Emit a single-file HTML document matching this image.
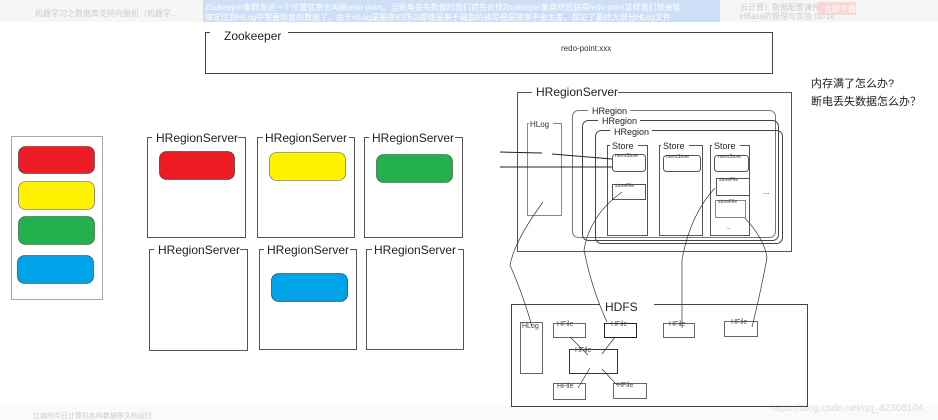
<!DOCTYPE html>
<html><head><meta charset="utf-8"><style>
html,body{margin:0;padding:0;background:#fff;width:938px;height:420px;overflow:hidden}
svg{display:block}
text{font-family:"Liberation Sans","Noto Sans CJK SC",sans-serif}
</style></head><body>
<svg width="938" height="420" viewBox="0 0 938 420" xmlns="http://www.w3.org/2000/svg">
<rect x="0" y="0" width="938" height="22" fill="#f6f6f6"/>
<rect x="203" y="0" width="517" height="22" fill="#cddff7"/>
<text x="205" y="10" font-size="8" fill="#fff">Zookeeper集群发送一个位置信息也叫做redo point。当断电丢失数据时我们首先去找Zookeeper集群然后获得redo point这样我们就会能</text>
<text x="205" y="20" font-size="8" fill="#fff">够定位到HLog中需要恢复的数据了，由于HLog是顺序IO所以即使是基于磁盘的读写但是效率不会太差，保证了最终大部分HLog文件</text>
<text x="35" y="16" font-size="8" fill="#ccc">机器学习之数据库支持向量机（机器学...</text>
<text x="740" y="10" font-size="8" fill="#ccc">云计算）数据配置课件9</text>
<text x="740" y="19" font-size="8" fill="#ccc">HBase的原理与实验 02-18</text>
<rect x="818" y="2" width="38" height="13" fill="#f9d7d7"/>
<text x="824" y="12" font-size="8" fill="#fff">立即下载</text>
<rect x="0" y="406" width="938" height="14" fill="#fafafa"/>
<text x="33" y="418" font-size="7" fill="#ccc">江城的今日计算机各种数据等文档运行</text>
<text x="770" y="411" font-size="10" fill="#ddd">https://blog.csdn.net/qq_42308104</text>

<g fill="none" stroke="#444" stroke-width="1">
<rect x="205.5" y="32.5" width="567" height="41"/>
</g>
<rect x="210" y="28" width="78" height="10" fill="#fff"/>
<text x="224" y="40" font-size="12" fill="#222">Zookeeper</text>
<text x="561" y="51" font-size="8" fill="#333">redo-point:xxx</text>

<text x="811" y="87" font-size="11" fill="#222">内存满了怎么办?</text>
<text x="811" y="105" font-size="11" fill="#222">断电丢失数据怎么办？</text>

<!-- palette -->
<rect x="11.5" y="136.5" width="91" height="163" fill="none" stroke="#aaa"/>
<rect x="18.5" y="146.5" width="76" height="27" rx="7" fill="#ed1c24" stroke="#333" stroke-width=".6"/>
<rect x="18.5" y="181.5" width="76" height="28" rx="7" fill="#fff200" stroke="#555" stroke-width=".6"/>
<rect x="18.5" y="216.5" width="76" height="28" rx="7" fill="#22b14c" stroke="#444" stroke-width=".6"/>
<rect x="17.5" y="255.5" width="76" height="28" rx="7" fill="#00a2e8" stroke="#333" stroke-width=".6"/>

<!-- HRegionServers -->
<g fill="none" stroke="#555">
<rect x="147.5" y="137.5" width="98" height="100"/>
<rect x="257.5" y="137.5" width="97" height="100"/>
<rect x="364.5" y="137.5" width="98" height="100"/>
<rect x="149.5" y="249.5" width="98" height="101"/>
<rect x="259.5" y="249.5" width="97" height="100"/>
<rect x="366.5" y="249.5" width="97" height="100"/>
</g>
<g fill="#fff">
<rect x="152" y="133" width="86" height="8"/><rect x="263" y="133" width="86" height="8"/><rect x="369" y="133" width="86" height="8"/>
<rect x="154" y="245" width="86" height="8"/><rect x="264" y="245" width="86" height="8"/><rect x="372" y="245" width="86" height="8"/>
</g>
<g font-size="12" fill="#222">
<text x="156" y="142">HRegionServer</text><text x="265" y="142">HRegionServer</text><text x="372" y="142">HRegionServer</text>
<text x="158" y="254">HRegionServer</text><text x="267" y="254">HRegionServer</text><text x="374" y="254">HRegionServer</text>
</g>
<rect x="159.5" y="151.5" width="75" height="28" rx="7" fill="#ed1c24" stroke="#222" stroke-width=".6"/>
<rect x="269.5" y="152.5" width="76" height="28" rx="7" fill="#fff200" stroke="#555" stroke-width=".6"/>
<rect x="376.5" y="154.5" width="76" height="28" rx="7" fill="#22b14c" stroke="#444" stroke-width=".6"/>
<rect x="271.5" y="273.5" width="76" height="28" rx="7" fill="#00a2e8" stroke="#222" stroke-width=".6"/>

<!-- right HRegionServer -->
<rect x="517.5" y="92.5" width="274" height="159" fill="none" stroke="#555"/>
<rect x="532" y="87" width="86" height="10" fill="#fff"/>
<text x="536" y="96" font-size="12" fill="#222">HRegionServer</text>
<rect x="527.5" y="123.5" width="34" height="92" fill="none" stroke="#888"/>
<rect x="529" y="119" width="24" height="8" fill="#fff"/>
<text x="530" y="127" font-size="8" fill="#333">HLog</text>
<g fill="none" stroke="#777">
<rect x="572.5" y="110.5" width="203" height="127" rx="6"/>
<rect x="582.5" y="120.5" width="196" height="120" rx="6" stroke="#444"/>
<rect x="595.5" y="130.5" width="187" height="113" rx="6" stroke="#444"/>
</g>
<rect x="588" y="105" width="42" height="8" fill="#fff"/><rect x="598" y="115" width="42" height="8" fill="#fff"/><rect x="610" y="125" width="42" height="8" fill="#fff"/>
<g font-size="9" fill="#222"><text x="592" y="114">HRegion</text><text x="602" y="124">HRegion</text><text x="614" y="135">HRegion</text></g>
<g fill="#fff" stroke="#555">
<rect x="607.5" y="145.5" width="40" height="90"/>
<rect x="659.5" y="145.5" width="43" height="90"/>
<rect x="710.5" y="145.5" width="39" height="90"/>
</g>
<rect x="610" y="141" width="28" height="8" fill="#fff"/><rect x="661" y="141" width="28" height="8" fill="#fff"/><rect x="712" y="141" width="28" height="8" fill="#fff"/>
<g font-size="9" fill="#222"><text x="612" y="149">Store</text><text x="663" y="149">Store</text><text x="714" y="149">Store</text></g>
<g fill="none" stroke="#555">
<rect x="612.5" y="154.5" width="33" height="17" rx="3"/>
<rect x="663.5" y="155.5" width="37" height="16" rx="3"/>
<rect x="714.5" y="155.5" width="34" height="16" rx="3"/>
<rect x="612.5" y="184.5" width="33" height="15"/>
<rect x="716.5" y="178.5" width="33" height="17"/>
<rect x="715.5" y="200.5" width="30" height="17" stroke="#888"/>
</g>
<g font-size="5" fill="#333">
<text x="615" y="157">memStore</text><text x="666" y="158">memStore</text><text x="718" y="158">memStore</text>
<text x="615" y="187">storeFile</text><text x="719" y="181">storeFile</text><text x="718" y="203">storeFile</text>
</g>
<text x="763" y="194" font-size="8" fill="#333">...</text>
<text x="727" y="229" font-size="7" fill="#333">..</text>

<g stroke="#222" fill="none" stroke-width="1">
<line x1="500" y1="152" x2="542" y2="153"/>
<line x1="552" y1="154" x2="612" y2="159"/>
<line x1="500" y1="167" x2="612" y2="167"/>
</g>

<!-- HDFS -->
<rect x="511.5" y="304.5" width="296" height="102" fill="none" stroke="#444"/>
<rect x="600" y="300" width="54" height="8" fill="#fff"/>
<text x="605" y="311" font-size="12" fill="#222">HDFS</text>
<g fill="none" stroke="#666">
<rect x="520.5" y="322.5" width="22" height="51"/>
<rect x="553.5" y="323.5" width="32" height="14"/>
<rect x="604.5" y="323.5" width="32" height="14" stroke="#222"/>
<rect x="663.5" y="323.5" width="31" height="14"/>
<rect x="724.5" y="321.5" width="33" height="15"/>
<rect x="569.5" y="349.5" width="48" height="24" stroke="#333"/>
<rect x="553.5" y="383.5" width="32" height="16"/>
<rect x="613.5" y="383.5" width="33" height="15"/>
</g>
<g font-size="7" fill="#444">
<text x="522" y="328">HLog</text><text x="557" y="326">HFile</text><text x="611" y="326">HFile</text>
<text x="669" y="326">HFile</text><text x="731" y="324">HFile</text><text x="575" y="352">HFile</text>
<text x="557" y="388">HFile</text><text x="617" y="387">HFile</text>
</g>
<g fill="none" stroke="#333" stroke-width=".7">
<path d="M543 202 Q515 240 510 265 Q525 300 532 327"/>
<path d="M622 192 Q590 215 584 250 Q592 290 607 322"/>
<path d="M715 188 Q690 215 682 260 L682 328"/>
<path d="M745 218 Q765 240 767 258 Q760 295 752 327"/>
<line x1="570" y1="337" x2="588" y2="355"/>
<line x1="615" y1="337" x2="602" y2="354"/>
<line x1="590" y1="368" x2="578" y2="388"/>
<line x1="602" y1="369" x2="617" y2="385"/>
</g>
</svg>
</body></html>
